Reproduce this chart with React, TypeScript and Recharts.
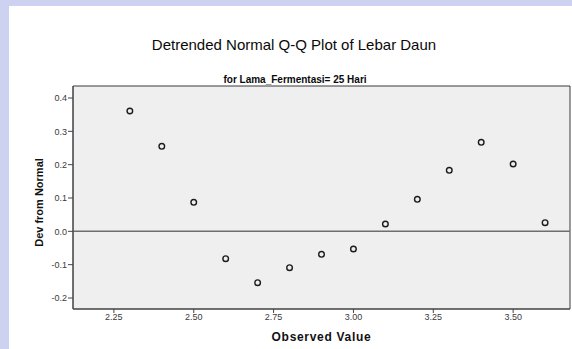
import {
  ScatterChart,
  Scatter,
  XAxis,
  YAxis,
  ReferenceArea,
  ReferenceLine,
} from "recharts";

const observed = [2.3, 2.4, 2.5, 2.6, 2.7, 2.8, 2.9, 3.0, 3.1, 3.2, 3.3, 3.4, 3.5, 3.6];
const devFromNormal = [
  0.361, 0.255, 0.087, -0.082, -0.154, -0.109, -0.069, -0.053, 0.022, 0.096, 0.183,
  0.267, 0.202, 0.026,
];

const xTicks = [2.25, 2.5, 2.75, 3.0, 3.25, 3.5];
const yTicks = [-0.2, -0.1, 0.0, 0.1, 0.2, 0.3, 0.4];
const xDomain = [2.122, 3.678];
const yDomain = [-0.233, 0.436];

const points = observed.map((x, i) => ({ x, y: devFromNormal[i] }));

const font = "'Liberation Sans', Arial, sans-serif";

function OpenCircle(props: any) {
  const { cx, cy } = props;
  return <circle cx={cx} cy={cy} r={2.8} fill="none" stroke="#1c1c1c" strokeWidth={1.4} />;
}

export default function App() {
  return (
    <div
      style={{
        position: "relative",
        width: 572,
        height: 349,
        background: "#cdd2f1",
        fontFamily: font,
        overflow: "hidden",
      }}
    >
      <style>{`body{margin:0}`}</style>
      <div
        style={{
          position: "absolute",
          left: 9,
          top: 6,
          right: 0,
          bottom: 0,
          background: "#ffffff",
        }}
      />
      <div
        style={{
          position: "absolute",
          left: 94,
          width: 400,
          top: 36,
          textAlign: "center",
          fontSize: 15,
          lineHeight: "17px",
          color: "#0a0a0a",
          whiteSpace: "nowrap",
        }}
      >
        Detrended Normal Q-Q Plot of Lebar Daun
      </div>
      <div
        style={{
          position: "absolute",
          left: 195,
          width: 200,
          top: 75,
          textAlign: "center",
          fontSize: 10,
          lineHeight: "10px",
          fontWeight: "bold",
          color: "#0a0a0a",
          whiteSpace: "nowrap",
        }}
      >
        for Lama_Fermentasi= 25 Hari
      </div>
      <div style={{ position: "absolute", left: 0, top: 0 }}>
        <ScatterChart
          width={572}
          height={349}
          margin={{ top: 86, right: 2, bottom: 0, left: 0 }}
        >
          <ReferenceArea
            x1={xDomain[0]}
            x2={xDomain[1]}
            y1={yDomain[0]}
            y2={yDomain[1]}
            fill="#efefef"
            fillOpacity={1}
            stroke="#3a3a3a"
            strokeWidth={1}
          />
          <XAxis
            type="number"
            dataKey="x"
            domain={xDomain}
            ticks={xTicks}
            allowDataOverflow
            height={40}
            tickFormatter={(v: number) => v.toFixed(2)}
            tick={{ fontSize: 9, fill: "#3a3a3a", fontFamily: font }}
            tickSize={4}
            tickMargin={1}
            stroke="#444"
            label={{
              value: "Observed Value",
              position: "insideBottom",
              offset: 8,
              style: {
                fontSize: 12,
                fontWeight: "bold",
                fill: "#111",
                letterSpacing: 0.7,
                fontFamily: font,
              },
            }}
          />
          <YAxis
            type="number"
            dataKey="y"
            domain={yDomain}
            ticks={yTicks}
            allowDataOverflow
            width={73}
            tickFormatter={(v: number) => v.toFixed(1)}
            tick={{ fontSize: 9, fill: "#3a3a3a", fontFamily: font }}
            tickSize={5}
            tickMargin={1}
            stroke="#444"
            label={{
              value: "Dev from Normal",
              angle: -90,
              position: "center",
              dx: 3,
              dy: 5,
              style: { fontSize: 11, fontWeight: "bold", fill: "#111", fontFamily: font },
            }}
          />
          <ReferenceLine y={0} stroke="#6e6e6e" strokeWidth={1.5} />
          <Scatter data={points} shape={OpenCircle} isAnimationActive={false} />
        </ScatterChart>
      </div>
    </div>
  );
}
